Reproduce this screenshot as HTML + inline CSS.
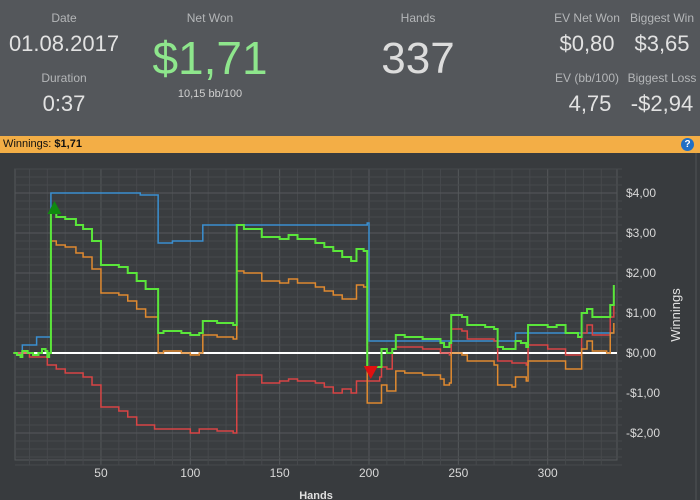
<!DOCTYPE html>
<html><head><meta charset="utf-8">
<style>
body{margin:0;width:700px;height:500px;overflow:hidden;background:#383b3e;font-family:"Liberation Sans",sans-serif;position:relative}
.hdr{position:absolute;left:0;top:0;width:700px;height:136px;background:#54575b}
.t{position:absolute;transform:translateX(-50%);white-space:nowrap;text-align:center}
.lb{color:#b4b6b8;font-size:12px}
.v{color:#e2e2e2;font-size:22px}
.bar{position:absolute;left:0;top:136px;width:700px;height:17px;background:#f3ae46;font-size:11px;color:#111;line-height:17px}
</style></head><body>
<div class="hdr">
<div class="t lb" style="left:64px;top:11px">Date</div>
<div class="t v" style="left:64px;top:31px">01.08.2017</div>
<div class="t lb" style="left:64px;top:71px">Duration</div>
<div class="t v" style="left:64px;top:91px">0:37</div>
<div class="t lb" style="left:210px;top:11px">Net Won</div>
<div class="t" style="left:210px;top:31px;font-size:46px;color:#8ee68c">$1,71</div>
<div class="t" style="left:210px;top:88px;font-size:11px;color:#d0d0d0">10,15 bb/100</div>
<div class="t lb" style="left:418px;top:11px">Hands</div>
<div class="t" style="left:418px;top:34px;font-size:44px;color:#dcdcdc">337</div>
<div class="t lb" style="left:587px;top:11px">EV Net Won</div>
<div class="t v" style="left:587px;top:31px">$0,80</div>
<div class="t lb" style="left:662px;top:11px">Biggest Win</div>
<div class="t v" style="left:662px;top:31px">$3,65</div>
<div class="t lb" style="left:587px;top:71px">EV (bb/100)</div>
<div class="t v" style="left:590px;top:91px">4,75</div>
<div class="t lb" style="left:662px;top:71px">Biggest Loss</div>
<div class="t v" style="left:662px;top:91px">-$2,94</div>
</div>
<div class="bar">&nbsp;Winnings: <b>$1,71</b>
<span style="position:absolute;right:6px;top:2px;width:13px;height:13px;border-radius:50%;background:#1f6fc5;color:#fff;font-size:10px;line-height:13px;text-align:center;font-weight:bold">?</span></div>
<svg id="ch" width="700" height="347" style="position:absolute;left:0;top:153px"></svg>
<script>
const hands=[1,337];
const yTicks=[4,3,2,1,0,-1,-2];
const yTickLabels=["$4,00","$3,00","$2,00","$1,00","$0,00","-$1,00","-$2,00"];
const xTicks=[50,100,150,200,250,300];
const greenH=[1,3,5,6,9,12,15,17,19,20,21,22,25,30,36,40,45,50,60,65,70,75,80,82,85,90,95,100,105,107,115,124,126,130,140,150,155,160,170,175,180,185,190,193,197,199,205,207,210,213,215,220,230,240,242,245,246,252,255,265,270,272,275,280,282,285,288,289,295,300,305,310,315,317,319,322,325,333,335,337];
const greenV=[0,-0.05,-0.1,0.05,0,-0.05,0,0.1,0.05,-0.1,0,3.5,3.4,3.35,3.2,3.1,2.8,2.2,2.15,2.0,1.8,1.6,1.6,0.5,0.55,0.55,0.5,0.45,0.5,0.8,0.75,0.7,3.2,3.1,2.9,2.85,2.95,2.85,2.75,2.65,2.55,2.4,2.3,2.6,2.55,-0.35,-0.35,0.1,0.0,0.1,0.45,0.4,0.35,0.25,0.15,0.25,0.95,0.9,0.7,0.65,0.6,0.15,0.1,0.1,0.3,0.25,0.15,0.7,0.7,0.65,0.7,0.5,0.5,0.4,1.0,1.1,0.9,0.9,1.2,1.7];
const orangeH=[1,3,5,6,9,12,15,17,19,20,21,22,25,30,36,40,45,50,60,65,70,75,80,82,85,90,95,100,105,107,115,124,126,130,140,150,155,160,170,175,180,185,190,193,197,199,205,207,210,213,215,220,230,240,242,245,246,252,255,270,272,280,282,288,289,300,305,310,317,319,322,325,333,335,337];
const orangeV=[0,-0.05,-0.1,0.05,0,-0.05,0,0.1,0.05,-0.1,0,2.8,2.7,2.65,2.5,2.4,2.1,1.5,1.45,1.3,1.1,0.9,0.9,0,0.05,0.05,0,-0.05,0,0.45,0.4,0.35,2.05,2.0,1.8,1.75,1.85,1.75,1.65,1.55,1.45,1.35,1.35,1.7,1.65,-1.25,-1.25,-0.8,-0.95,-0.95,-0.45,-0.5,-0.55,-0.65,-0.8,-0.75,0.0,-0.05,-0.2,-0.3,-0.8,-0.85,-0.6,-0.7,-0.2,-0.2,-0.2,-0.4,-0.4,0.1,0.3,0.05,0.0,0.5,0.75];
const redH=[1,10,20,25,30,40,45,50,60,65,70,80,90,100,105,115,124,126,130,140,150,155,160,170,175,180,185,190,193,200,206,207,210,213,215,230,240,245,246,252,255,270,272,280,288,289,300,310,317,319,322,325,333,335,337];
const redV=[0,-0.1,-0.3,-0.4,-0.5,-0.6,-0.8,-1.35,-1.45,-1.6,-1.8,-1.9,-1.9,-2.0,-1.9,-1.95,-2.0,-0.55,-0.55,-0.75,-0.7,-0.65,-0.7,-0.75,-0.85,-1.0,-0.9,-1.0,-0.7,-0.7,-0.6,-0.35,-0.4,0.1,0.15,0.1,0.0,-0.05,0.6,0.55,0.35,0.3,-0.2,-0.25,-0.3,0.2,0.1,-0.05,-0.05,0.5,0.7,0.45,0.45,0.9,1.2];
const blueH=[1,5,6,12,14,20,22,70,72,80,82,90,105,107,199,200,280,282,337];
const blueV=[0,0,0.2,0.2,0.4,0.4,4.0,4.0,3.95,3.95,2.75,2.8,2.8,3.2,3.25,0.3,0.3,0.5,0.5];
const maxMark={hand:24,value:3.65};
const minMark={hand:201,value:-0.5};

const NS="http://www.w3.org/2000/svg";
const svg=document.getElementById('ch');
const OY=153;
const L=15,R=617,T=169-OY,B=460-OY;
const X=h=>11.6+h*1.787;
const Y=v=>(353-OY)-v*40;
function el(t,a,p){const e=document.createElementNS(NS,t);for(const k in a)e.setAttribute(k,a[k]);(p||svg).appendChild(e);return e;}
const bg=el('rect',{x:L,y:T,width:R-L,height:B-T,fill:'#3a3d40',stroke:'#55585b'});


for(let h=10;h<=330;h+=10){const g=el('line',{x1:X(h),x2:X(h),y1:T,y2:B+5,stroke:h%50?'#46494c':'#55585b'});

}
for(let v=-2.8;v<=4.61;v+=0.2){const major=Math.abs(v-Math.round(v))<0.01;const g=el('line',{x1:L,x2:R+(major?0:5),y1:Y(v),y2:Y(v),stroke:major?'#55585b':'#46494c'});

}
xTicks.forEach(h=>{const t=el('text',{x:X(h),y:324,fill:'#d8d8d8','font-size':12,'text-anchor':'middle'});t.textContent=h;

});
yTicks.forEach((v,i)=>{const t=el('text',{x:626,y:Y(v)+4,fill:'#d8d8d8','font-size':12});t.textContent=yTickLabels[i];

});
const xt=el('text',{x:316,y:346,fill:'#e0e0e0','font-size':11,'font-weight':'bold','text-anchor':'middle'});xt.textContent='Hands';


const yt=el('text',{x:0,y:0,fill:'#e0e0e0','font-size':13,'text-anchor':'middle',transform:'translate(680,162) rotate(-90)'});yt.textContent='Winnings';


const zl=el('line',{x1:L,x2:R,y1:Y(0),y2:Y(0),stroke:'#ffffff','stroke-width':2});


function series(H,V,c,name){
  const pts=[];
  H.forEach((h,i)=>{ if(i>0) pts.push(X(h)+','+Y(V[i-1])); pts.push(X(h)+','+Y(V[i])); });
  const p=el('polyline',{points:pts.join(' '),fill:'none',stroke:c,'stroke-width':name==='net-won-line'?2:1.5});

}
series(blueH,blueV,'#3a8fd0','ev-line');
series(redH,redV,'#d84545','showdown-line');
series(orangeH,orangeV,'#e08a30','non-showdown-line');
series(greenH,greenV,'#5ae63a','net-won-line');
const mx=X(maxMark.hand),my=Y(maxMark.value);
const m1=el('polygon',{points:`${mx-7},${my+7} ${mx+7},${my+7} ${mx},${my-6}`,fill:'#108a10'});


const nx=X(minMark.hand),ny=Y(minMark.value);
const m2=el('polygon',{points:`${nx-7},${ny-7} ${nx+7},${ny-7} ${nx},${ny+6}`,fill:'#e01010'});


const rb=el('line',{x1:696,x2:696,y1:0,y2:347,stroke:'#505356'});


</script>
</body></html>
